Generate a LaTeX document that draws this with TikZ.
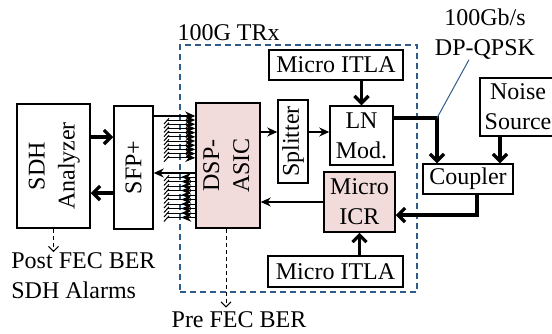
\documentclass[tikz,border=0pt]{standalone}
\usepackage{fontspec}
\setmainfont{Liberation Serif}
\usepackage{xcolor}
\definecolor{trxblue}{HTML}{2E5C8A}
\definecolor{asicpink}{HTML}{F2DCDB}
\usetikzlibrary{arrows.meta}

\begin{document}
\begin{tikzpicture}[x=0.5pt, y=-0.5pt, font=\fontsize{12}{15}\selectfont,
  box/.style={draw, line width=0.75pt, inner sep=1pt, align=center},
  sig/.style={line width=0.6pt, -{Stealth[length=5pt,width=4.5pt]}},
  fibre/.style={line width=1.6pt, -{Straight Barb[length=3.5pt,width=7pt]}},
  bus/.style={line width=0.5pt, -{Stealth[length=5pt,width=4.2pt]}},
  measure/.style={line width=0.5pt, dash pattern=on 2pt off 1.5pt,
                  -{Straight Barb[length=2.5pt,width=5pt]}}]
  \useasboundingbox (0,0) rectangle (552,333);
  % transceiver frame
  \node[draw=trxblue, line width=0.75pt, dash pattern=on 3pt off 2pt,
        minimum width=118.5pt, minimum height=123.5pt] (trx) at (298.5,168.5) {};
  \node[anchor=base west, inner sep=0pt] (trxname) at ([shift={(-1pt,2pt)}]trx.north west) {100G TRx};
  % blocks
  \node[box, minimum width=36.5pt, minimum height=62pt] (sdh) at (53.5,166)
    {\rotatebox{90}{\begin{tabular}{@{}c@{}}SDH\\Analyzer\end{tabular}}};
  \node[box, minimum width=19.5pt, minimum height=61.5pt] (sfp) at (133.5,167.5)
    {\rotatebox{90}{SFP+}};
  \node[box, fill=asicpink, minimum width=30pt, minimum height=62.5pt] (dsp) at (228,165.5)
    {\rotatebox{90}{\begin{tabular}{@{}c@{}}DSP-\\ASIC\end{tabular}}};
  \node[box, minimum width=15pt, minimum height=41.5pt] (spl) at (293,141.5)
    {\rotatebox{90}{Splitter}};
  \node[box, minimum width=67pt, minimum height=15pt] (itlatx) at (336,65) {Micro ITLA};
  \node[box, minimum width=31.5pt, minimum height=29.5pt] (ln) at (361.5,135.5) {LN\\Mod.};
  \node[box, fill=asicpink, minimum width=35.5pt, minimum height=30pt] (icr) at (359.5,202) {Micro\\ICR};
  \node[box, minimum width=67.5pt, minimum height=15.5pt] (itlarx) at (335.5,271.5) {Micro ITLA};
  \node[box, minimum width=45pt, minimum height=15pt] (coupler) at (468,179) {Coupler};
  \node[box, minimum width=38pt, minimum height=29pt] (noise) at (518,107) {Noise\\Source};
  \node[align=center, inner sep=0pt] (rate) at (485,34) {100Gb/s\\DP-QPSK};
  % outputs
  \node[anchor=north west, align=left, inner sep=0pt] (post) at (11,252) {Post FEC BER\\SDH Alarms};
  \node[inner sep=0pt] (pre) at (239,320) {Pre FEC BER};
  % SDH <-> SFP+
  \coordinate (e1) at ([yshift=14.5pt]sdh.east);
  \coordinate (e2) at ([yshift=-13.5pt]sdh.east);
  \draw[fibre] (e1) -- (e1 -| sfp.west);
  \draw[fibre] (e2 -| sfp.west) -- (e2);
  % SFP+ <-> DSP and the lane bundles
  \coordinate (f1) at ([yshift=25.75pt]sfp.east);
  \coordinate (f2) at ([yshift=-2.75pt]sfp.east);
  \draw[sig] (f1) -- (f1 -| dsp.west);
  \draw[sig] (f2 -| dsp.west) -- (f2);
  \foreach \k in {0,...,9}{
    \coordinate (tx) at (167,{120+4.2*\k});
    \draw[bus] (tx) -- (tx -| dsp.west);
    \draw[line width=0.5pt] ([shift={(-1.5pt,-2pt)}]tx) -- ([shift={(1pt,0.8pt)}]tx);
    \coordinate (rx) at (167,{177+4.5*\k});
    \draw[line width=0.5pt] (rx -| dsp.west) -- (rx);
    \draw[bus] (rx -| dsp.west) -- ++(-14,0);
    \draw[line width=0.5pt] ([shift={(-1.5pt,-2pt)}]rx) -- ([shift={(1pt,0.8pt)}]rx);
  }
  % transmitter side
  \coordinate (s1) at ([yshift=4.75pt]spl.west);
  \draw[sig] (s1 -| dsp.east) -- (s1);
  \draw[sig] (s1 -| spl.east) -- (s1 -| ln.west);
  \draw[fibre] (ln.north |- itlatx.south) -- (ln.north);
  \coordinate (tap) at (437,118);
  \draw[fibre] (ln.east |- tap) -- (tap) -- (tap |- coupler.north);
  \draw[trxblue, line width=0.5pt] ([xshift=-8pt]rate.south) -- (tap);
  \draw[fibre] ([xshift=-9pt]noise.south) -- ([xshift=-9pt]noise.south |- coupler.north);
  % receiver side
  \coordinate (c2) at ([yshift=-6.5pt]icr.east);
  \draw[fibre] ([xshift=4.5pt]coupler.south) |- (c2);
  \draw[fibre] (icr.south |- itlarx.north) -- (icr.south);
  \draw[sig] (icr.west) -- (icr.west -| dsp.east);
  % monitoring
  \draw[measure] (sdh.south) -- (sdh.south |- post.north);
  \draw[measure] ([xshift=-1pt]dsp.south) -- ([shift={(-1pt,2pt)}]dsp.south |- pre.north);
\end{tikzpicture}
\end{document}
